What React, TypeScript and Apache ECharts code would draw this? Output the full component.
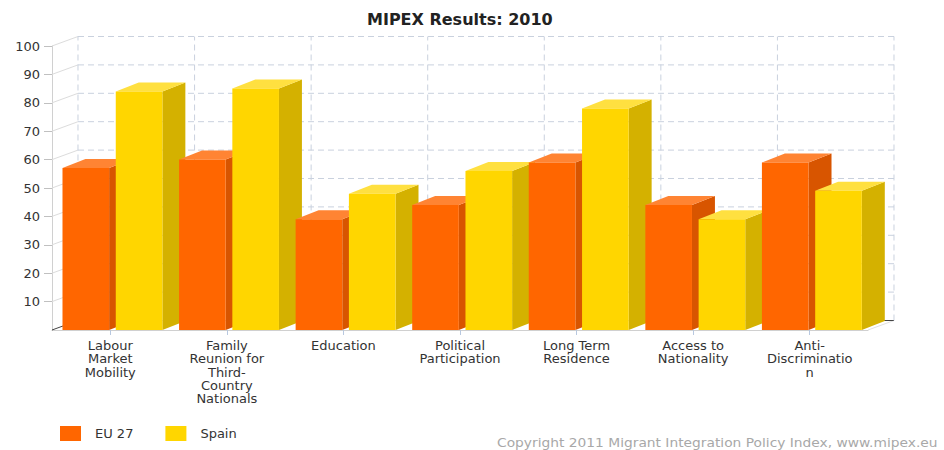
import React, { useEffect, useRef } from 'react';
import * as echarts from 'echarts';

const categories = [
  'Labour\nMarket\nMobility',
  'Family\nReunion for\nThird-\nCountry\nNationals',
  'Education',
  'Political\nParticipation',
  'Long Term\nResidence',
  'Access to\nNationality',
  'Anti-\nDiscriminatio\nn',
];
const eu27 = [57, 60, 39, 44, 59, 44, 59];
const spain = [84, 85, 48, 56, 78, 39, 49];
const yTicks = [0, 10, 20, 30, 40, 50, 60, 70, 80, 90, 100];
const seriesNames = ['EU 27', 'Spain'];
const titleText = 'MIPEX Results: 2010';
const copyrightText = 'Copyright 2011 Migrant Integration Policy Index, www.mipex.eu';

const FONT = 'DejaVu Sans';
const EU_COL = { front: '#FF6600', top: '#FF8433', side: '#D85500' };
const SP_COL = { front: '#FFD600', top: '#FFE040', side: '#D4B100' };
const WALL_DASH = '#c9d1de';

export default function App() {
  const ref = useRef<HTMLDivElement>(null);
  useEffect(() => {
    if (!ref.current) return;
    const chart = echarts.init(ref.current, null, { renderer: 'svg' });

    const barData = categories.map((_, i) => [i, eu27[i], spain[i]]);
    const wallData = yTicks.map((v) => [0, v]);
    const boundaryData = Array.from({ length: categories.length + 1 }, (_, k) => [k, 0]);

    const option: any = {
      animation: false,
      backgroundColor: '#ffffff',
      title: {
        text: titleText,
        left: 362,
        top: 6,
        textStyle: { fontFamily: FONT, fontSize: 16, fontWeight: 'bold', color: '#222' },
      },
      legend: {
        data: seriesNames,
        left: 55,
        top: 421,
        itemWidth: 21,
        itemHeight: 15,
        itemGap: 32,
        icon: 'rect',
        selectedMode: false,
        textStyle: { fontFamily: FONT, fontSize: 13, color: '#333', padding: [0, 0, 0, 9] },
      },
      grid: { left: 52, right: 76, top: 46, bottom: 120 },
      xAxis: {
        type: 'category',
        data: categories,
        boundaryGap: true,
        axisLine: { show: true, lineStyle: { color: '#d0d0d0' } },
        axisTick: { show: true, alignWithLabel: true, length: 5, lineStyle: { color: '#b8c8e0' } },
        axisLabel: { interval: 0, fontFamily: FONT, fontSize: 13, lineHeight: 13.3, color: '#333', margin: 9 },
        splitLine: { show: false },
      },
      yAxis: {
        type: 'value',
        min: 0,
        max: 100,
        interval: 10,
        axisLine: { show: true, lineStyle: { color: '#d0d0d0' } },
        axisTick: { show: true, length: 8, lineStyle: { color: '#c0c0c0' } },
        axisLabel: { showMinLabel: false, fontFamily: FONT, fontSize: 13, color: '#333', margin: 12 },
        splitLine: { show: false },
      },
      graphic: [
        {
          type: 'text',
          x: 497,
          y: 443,
          scaleX: 1.15,
          style: {
            text: copyrightText,
            x: 0,
            y: 0,
            fontFamily: FONT,
            fontSize: 12,
            fill: '#a8a8a8',
            verticalAlign: 'middle',
          },
        },
      ],
      series: [
        {
          type: 'custom',
          name: 'wall',
          data: wallData,
          encode: { x: 0, y: 1 },
          silent: true,
          z: 1,
          renderItem: (params: any, api: any) => {
            const v = api.value(1);
            const band = api.size([1, 0])[0];
            const p0 = api.coord([0, v]);
            const left = p0[0] - band / 2;
            const right = api.coord([categories.length - 1, v])[0] + band / 2;
            const dx = band * 0.223;
            const dy = -9.5;
            const children: any[] = [];
            children.push({
              type: 'line',
              shape: { x1: left, y1: p0[1], x2: left + dx, y2: p0[1] + dy },
              style: { stroke: v === 0 ? '#444' : '#dcdcdc', lineWidth: 1 },
            });
            children.push({
              type: 'line',
              shape: { x1: left + dx, y1: p0[1] + dy, x2: right + dx, y2: p0[1] + dy },
              style: v === 0
                ? { stroke: '#e0e0e0', lineWidth: 1 }
                : { stroke: WALL_DASH, lineWidth: 1, lineDash: [6, 4] },
            });
            if (v === 0) {
              children.push({
                type: 'line',
                shape: { x1: right, y1: p0[1], x2: right + dx, y2: p0[1] + dy },
                style: { stroke: '#e0e0e0', lineWidth: 1 },
              });
              children.push({
                type: 'line',
                shape: { x1: right + dx - 10, y1: p0[1] + dy, x2: right + dx, y2: p0[1] + dy },
                style: { stroke: '#444', lineWidth: 1 },
              });
            }
            return { type: 'group', children };
          },
        },
        {
          type: 'custom',
          name: 'wallV',
          data: boundaryData,
          encode: { y: 1 },
          silent: true,
          z: 1,
          renderItem: (params: any, api: any) => {
            const k = api.value(0);
            const band = api.size([1, 0])[0];
            const base = api.coord([0, 0]);
            const top = api.coord([0, 100]);
            const x = base[0] - band / 2 + k * band + band * 0.223;
            return {
              type: 'line',
              shape: { x1: x, y1: base[1] - 9.5, x2: x, y2: top[1] - 9.5 },
              style: { stroke: WALL_DASH, lineWidth: 1, lineDash: [6, 4] },
            };
          },
        },
        {
          type: 'custom',
          name: 'bars3d',
          data: barData,
          encode: { x: 0, y: 1 },
          z: 3,
          renderItem: (params: any, api: any) => {
            const idx = api.value(0);
            const band = api.size([1, 0])[0];
            const base = api.coord([idx, 0]);
            const c = base[0];
            const y0 = base[1];
            const dx = band * 0.197;
            const dy = -9;
            const w = band * 0.4;
            const children: any[] = [];
            const make = (L: number, val: number, col: any) => {
              const yT = api.coord([idx, val])[1];
              const R = L + w;
              children.push({
                type: 'polygon',
                shape: { points: [[R, yT], [R + dx, yT + dy], [R + dx, y0 + dy], [R, y0]] },
                style: { fill: col.side },
              });
              children.push({
                type: 'polygon',
                shape: { points: [[L, yT], [R, yT], [R + dx, yT + dy], [L + dx, yT + dy]] },
                style: { fill: col.top },
              });
              children.push({
                type: 'rect',
                shape: { x: L, y: yT, width: w, height: y0 - yT },
                style: { fill: col.front },
              });
            };
            make(c - band * 0.41, api.value(1), EU_COL);
            make(c + band * 0.047, api.value(2), SP_COL);
            return { type: 'group', children };
          },
        },
        { type: 'bar', name: seriesNames[0], data: [], itemStyle: { color: EU_COL.front } },
        { type: 'bar', name: seriesNames[1], data: [], itemStyle: { color: SP_COL.front } },
      ],
    };
    chart.setOption(option);
    return () => chart.dispose();
  }, []);
  return (
    <div
      ref={ref}
      style={{ position: 'fixed', left: 0, top: 0, width: 944, height: 450, background: '#fff' }}
    />
  );
}
